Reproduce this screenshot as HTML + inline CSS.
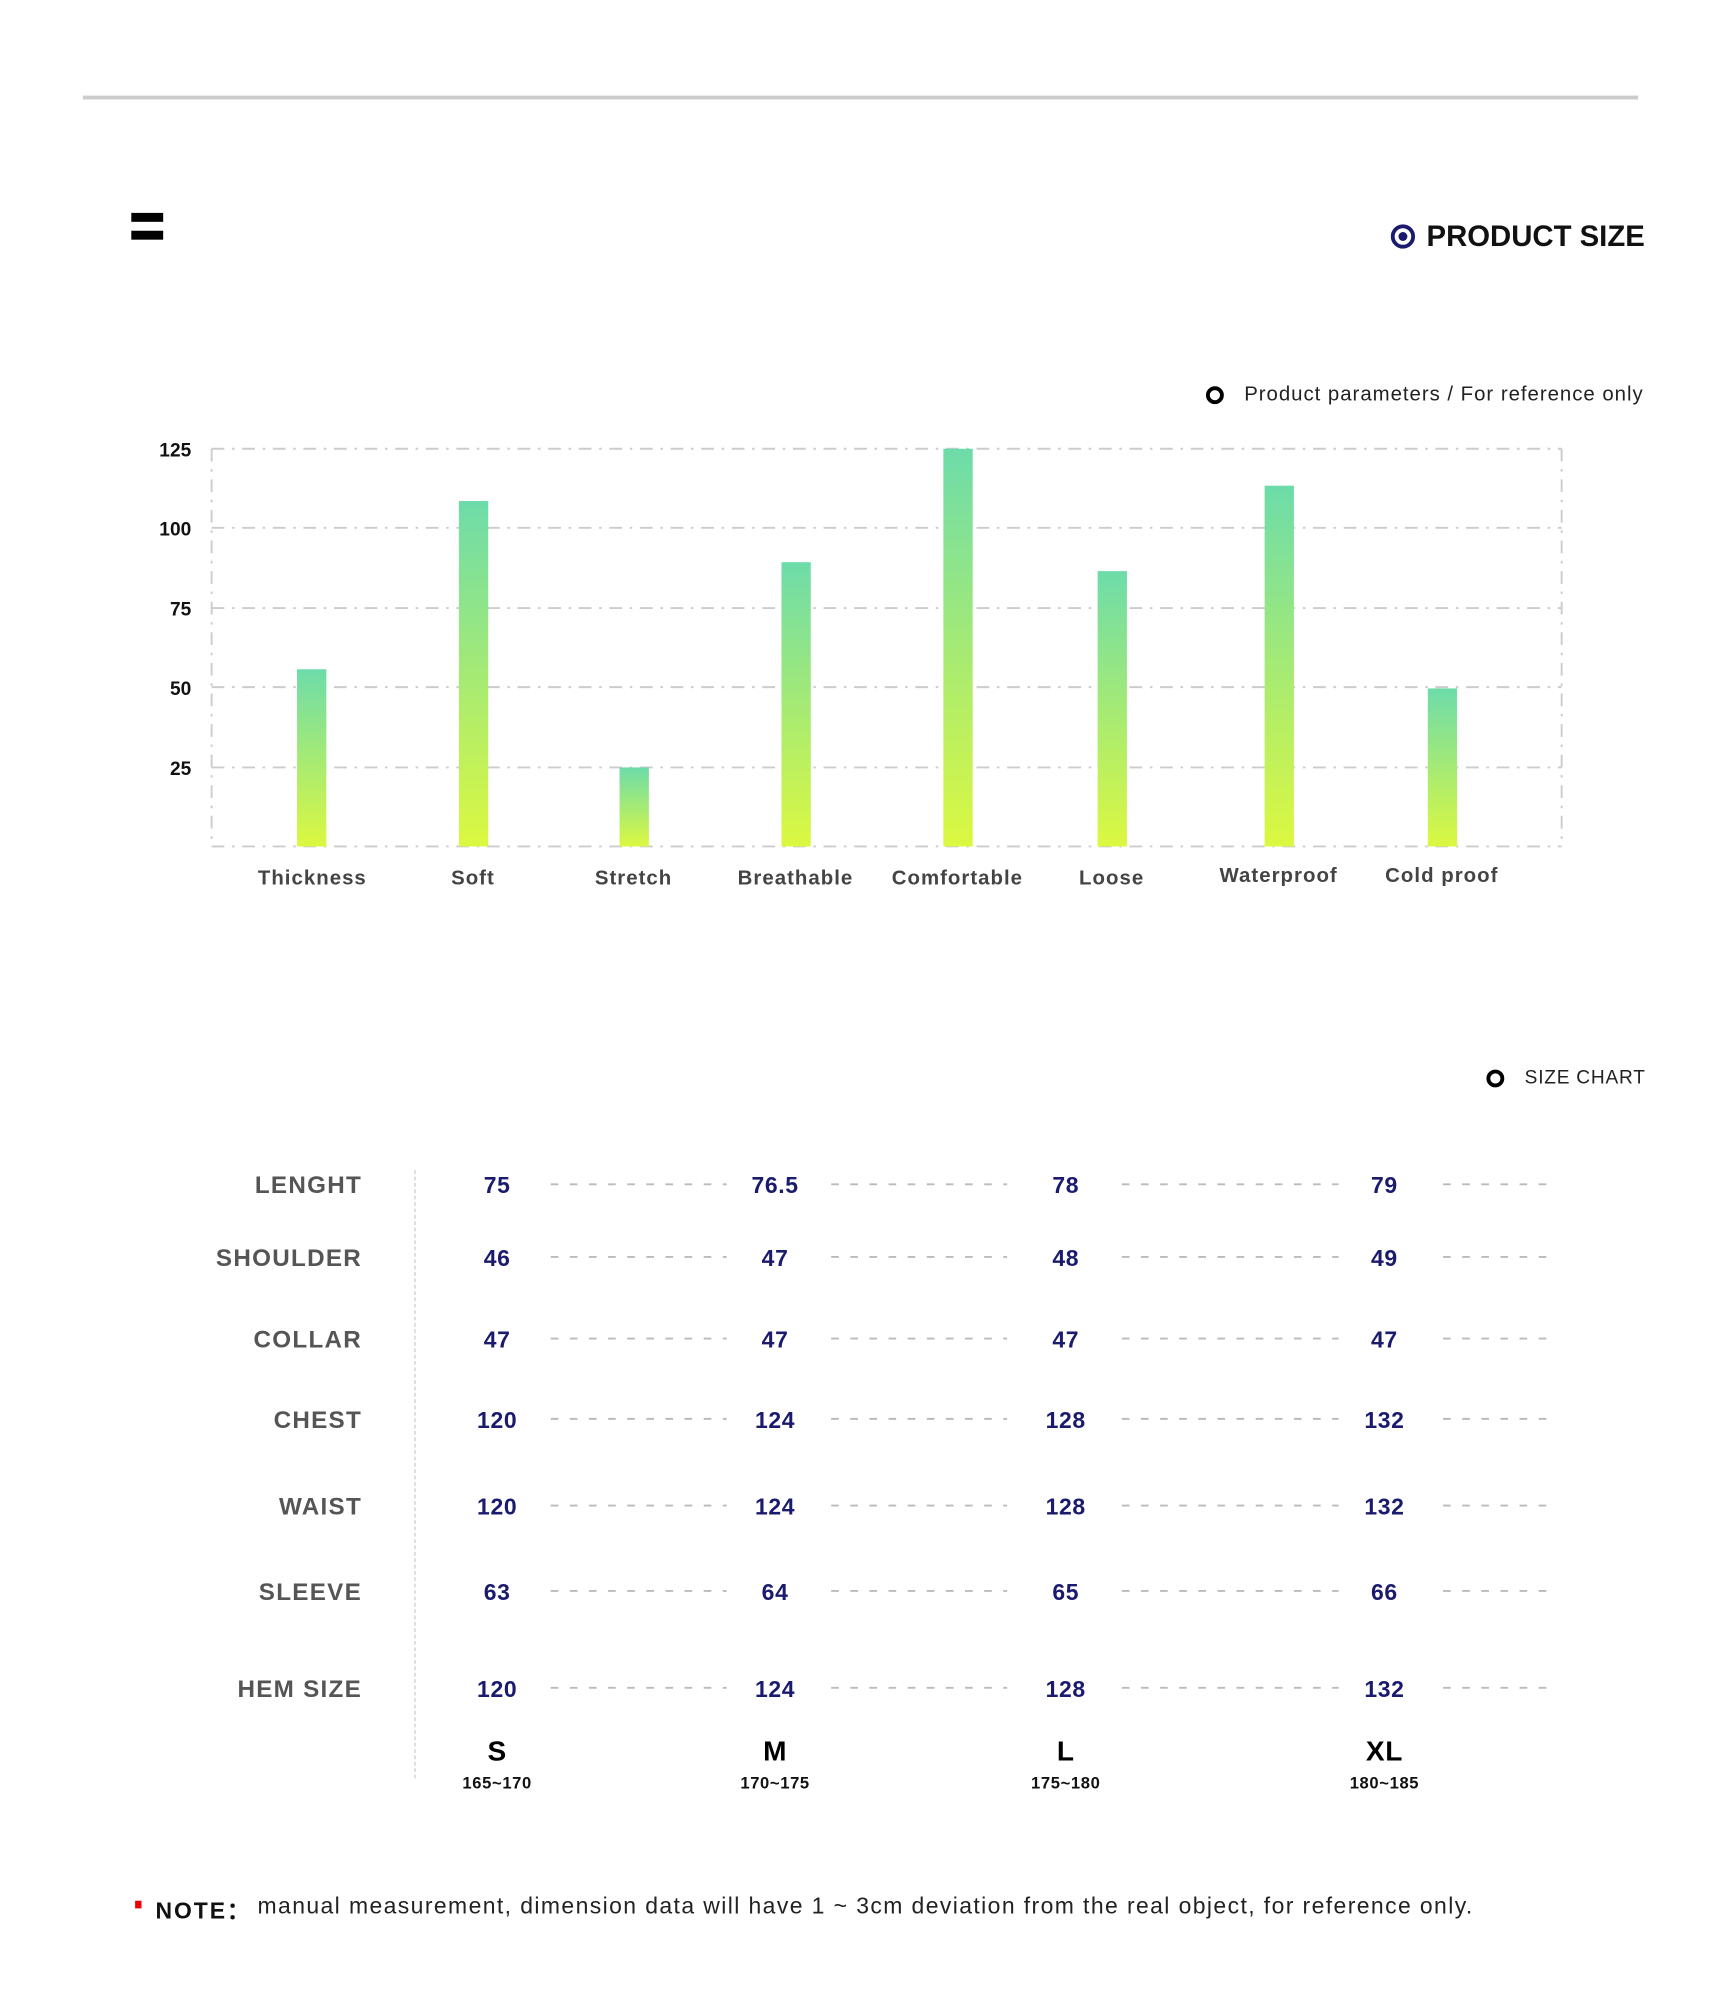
<!DOCTYPE html>
<html><head><meta charset="utf-8"><style>
html,body{margin:0;padding:0;background:#fff;}
body{width:1721px;height:2000px;overflow:hidden;position:relative;}
#s{position:absolute;left:0;top:0;width:1350px;height:1569px;transform:scale(1.27481);transform-origin:0 0;font-family:"Liberation Sans",sans-serif;}
.a{position:absolute;white-space:nowrap;}
.bar{position:absolute;width:23px;background:linear-gradient(#6ddcaa,#dcf840);}
.xl{position:absolute;top:681px;width:140px;margin-left:-70px;text-align:center;font-weight:bold;font-size:16px;color:#444;letter-spacing:0.8px;}
.yl{position:absolute;left:100px;width:50px;text-align:right;font-weight:bold;font-size:15px;color:#111;}
.rl{position:absolute;left:100px;width:184px;text-align:right;font-weight:bold;font-size:19px;color:#555;letter-spacing:1px;}
.v{position:absolute;width:80px;margin-left:-40px;text-align:center;font-weight:bold;font-size:18px;color:#1a1a6e;letter-spacing:0.5px;}
</style></head><body><div id="s">
<div class="a" style="left:65px;top:75px;width:1220px;height:3px;background:#ccc"></div>
<div class="a" style="left:103px;top:167px;width:25px;height:7px;background:#000"></div>
<div class="a" style="left:103px;top:181px;width:25px;height:7px;background:#000"></div>
<div class="a" style="left:1091px;top:176px;width:13px;height:13px;border:3px solid #1a1a6e;border-radius:50%"></div>
<div class="a" style="left:1097px;top:182px;width:7px;height:7px;background:#1a1a6e;border-radius:50%"></div>
<div class="a" style="left:1119px;top:172px;font-weight:bold;font-size:23px;color:#111">PRODUCT SIZE</div>
<div class="a" style="left:946px;top:303px;width:8px;height:8px;border:3px solid #000;border-radius:50%"></div>
<div class="a" style="left:976px;top:301px;font-size:16px;color:#222;letter-spacing:0.76px">Product parameters / For reference only</div>
<svg class="a" style="left:0;top:0" width="1350" height="700">
<g stroke="#ccc" stroke-width="1.5" stroke-dasharray="10 6 2 6" fill="none">
<line x1="166" y1="352" x2="1225" y2="352"/><line x1="166" y1="414" x2="1225" y2="414"/>
<line x1="166" y1="477" x2="1225" y2="477"/><line x1="166" y1="539" x2="1225" y2="539"/>
<line x1="166" y1="602" x2="1225" y2="602"/><line x1="166" y1="664" x2="1225" y2="664"/>
<line x1="166" y1="352" x2="166" y2="664"/><line x1="1225" y1="352" x2="1225" y2="664"/>
</g></svg>
<div class="yl" style="top:345px">125</div><div class="yl" style="top:407px">100</div>
<div class="yl" style="top:470px">75</div><div class="yl" style="top:532px">50</div><div class="yl" style="top:595px">25</div>
<div class="bar" style="left:233px;top:525px;height:139px"></div>
<div class="bar" style="left:360px;top:393px;height:271px"></div>
<div class="bar" style="left:486px;top:602px;height:62px"></div>
<div class="bar" style="left:613px;top:441px;height:223px"></div>
<div class="bar" style="left:740px;top:352px;height:312px"></div>
<div class="bar" style="left:861px;top:448px;height:216px"></div>
<div class="bar" style="left:992px;top:381px;height:283px"></div>
<div class="bar" style="left:1120px;top:540px;height:124px"></div>
<div class="xl" style="left:245px">Thickness</div><div class="xl" style="left:371px">Soft</div>
<div class="xl" style="left:497px">Stretch</div><div class="xl" style="left:624px">Breathable</div>
<div class="xl" style="left:751px">Comfortable</div><div class="xl" style="left:872px">Loose</div>
<div class="xl" style="left:1003px;top:679px">Waterproof</div><div class="xl" style="left:1131px;top:679px">Cold proof</div>
<div class="a" style="left:1166px;top:839px;width:8px;height:8px;border:3px solid #000;border-radius:50%"></div>
<div class="a" style="left:1196px;top:837px;font-size:15px;color:#222;letter-spacing:0.6px">SIZE CHART</div>
<div class="a" style="left:325px;top:918px;height:477px;border-left:1.5px dashed #ccc"></div>
<div class="rl" style="top:920px">LENGHT</div><div class="rl" style="top:977px">SHOULDER</div>
<div class="rl" style="top:1041px">COLLAR</div><div class="rl" style="top:1104px">CHEST</div>
<div class="rl" style="top:1172px">WAIST</div><div class="rl" style="top:1239px">SLEEVE</div>
<div class="rl" style="top:1315px">HEM SIZE</div>
<div class="a" style="left:0;top:1px">
<div class="v" style="left:390px;top:919px">75</div><div class="v" style="left:608px;top:919px">76.5</div><div class="v" style="left:836px;top:919px">78</div><div class="v" style="left:1086px;top:919px">79</div>
<div class="v" style="left:390px;top:976px">46</div><div class="v" style="left:608px;top:976px">47</div><div class="v" style="left:836px;top:976px">48</div><div class="v" style="left:1086px;top:976px">49</div>
<div class="v" style="left:390px;top:1040px">47</div><div class="v" style="left:608px;top:1040px">47</div><div class="v" style="left:836px;top:1040px">47</div><div class="v" style="left:1086px;top:1040px">47</div>
<div class="v" style="left:390px;top:1103px">120</div><div class="v" style="left:608px;top:1103px">124</div><div class="v" style="left:836px;top:1103px">128</div><div class="v" style="left:1086px;top:1103px">132</div>
<div class="v" style="left:390px;top:1171px">120</div><div class="v" style="left:608px;top:1171px">124</div><div class="v" style="left:836px;top:1171px">128</div><div class="v" style="left:1086px;top:1171px">132</div>
<div class="v" style="left:390px;top:1238px">63</div><div class="v" style="left:608px;top:1238px">64</div><div class="v" style="left:836px;top:1238px">65</div><div class="v" style="left:1086px;top:1238px">66</div>
<div class="v" style="left:390px;top:1314px">120</div><div class="v" style="left:608px;top:1314px">124</div><div class="v" style="left:836px;top:1314px">128</div><div class="v" style="left:1086px;top:1314px">132</div>
</div>
<svg class="a" style="left:0;top:0" width="1350" height="1400">
<g stroke="#bbb" stroke-width="1.5" stroke-dasharray="6 9">
<g id="r"><line x1="432" y1="929" x2="570" y2="929"/><line x1="652" y1="929" x2="790" y2="929"/><line x1="880" y1="929" x2="1050" y2="929"/><line x1="1132" y1="929" x2="1222" y2="929"/></g>
<use href="#r" y="57"/><use href="#r" y="121"/><use href="#r" y="184"/><use href="#r" y="252"/><use href="#r" y="319"/><use href="#r" y="395"/>
</g></svg>
<div class="v" style="left:390px;top:1361px;color:#000;font-size:22px">S</div>
<div class="v" style="left:608px;top:1361px;color:#000;font-size:22px">M</div>
<div class="v" style="left:836px;top:1361px;color:#000;font-size:22px">L</div>
<div class="v" style="left:1086px;top:1361px;color:#000;font-size:22px">XL</div>
<div class="v" style="left:390px;top:1391px;color:#111;font-size:13px">165~170</div>
<div class="v" style="left:608px;top:1391px;color:#111;font-size:13px">170~175</div>
<div class="v" style="left:836px;top:1391px;color:#111;font-size:13px">175~180</div>
<div class="v" style="left:1086px;top:1391px;color:#111;font-size:13px">180~185</div>
<div class="a" style="left:106px;top:1491px;width:5px;height:6px;background:#e00"></div>
<div class="a" style="left:122px;top:1485px;font-weight:bold;font-size:18px;color:#111;letter-spacing:1.5px">NOTE：</div>
<div class="a" style="left:202px;top:1485px;font-size:18px;color:#222;letter-spacing:1.1px">manual measurement, dimension data will have 1 ~ 3cm deviation from the real object, for reference only.</div>
</div></body></html>
